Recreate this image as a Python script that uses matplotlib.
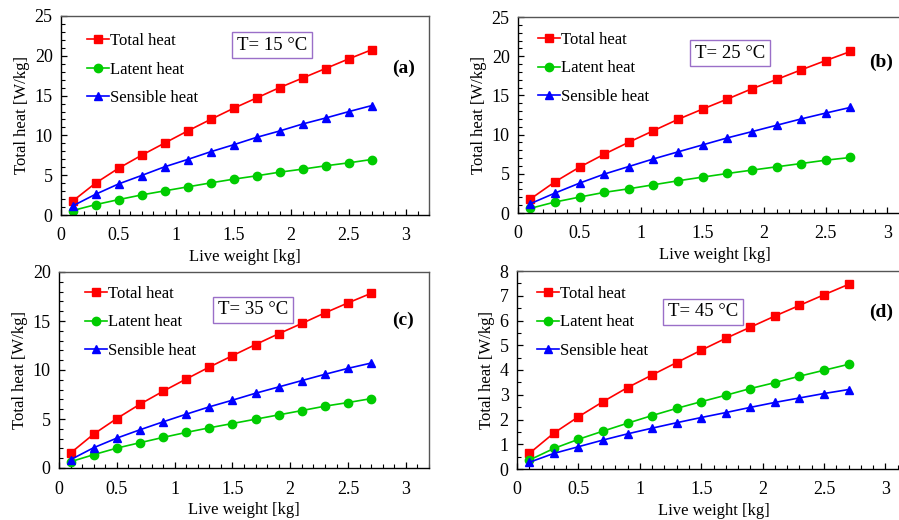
import matplotlib
matplotlib.use("Agg")
import matplotlib.pyplot as plt
from matplotlib.ticker import MultipleLocator, FormatStrFormatter

plt.rcParams['font.family'] = ['Liberation Serif', 'DejaVu Serif']

# live weight [kg]
weight = [0.1, 0.3, 0.5, 0.7, 0.9, 1.1, 1.3, 1.5, 1.7, 1.9, 2.1, 2.3, 2.5, 2.7]

# T = 15 C
total_15 = [1.73, 4.0, 5.87, 7.5, 9.03, 10.55, 12.0, 13.4, 14.7, 16.0, 17.2, 18.4, 19.6, 20.75]
latent_15 = [0.55, 1.3, 1.93, 2.52, 3.03, 3.53, 4.03, 4.5, 4.92, 5.38, 5.76, 6.18, 6.55, 6.97]
sensible_15 = [1.13, 2.6, 3.9, 4.96, 6.05, 6.97, 7.94, 8.82, 9.75, 10.55, 11.43, 12.18, 12.98, 13.74]

# T = 25 C
total_25 = [1.78, 3.98, 5.85, 7.5, 9.03, 10.5, 11.95, 13.26, 14.53, 15.85, 17.03, 18.26, 19.45, 20.6]
latent_25 = [0.59, 1.4, 2.03, 2.63, 3.09, 3.6, 4.11, 4.58, 5.04, 5.47, 5.89, 6.31, 6.74, 7.08]
sensible_25 = [1.19, 2.54, 3.81, 4.96, 5.93, 6.9, 7.8, 8.69, 9.58, 10.38, 11.19, 12.0, 12.75, 13.47]

# T = 35 C
total_35 = [1.53, 3.46, 5.05, 6.51, 7.83, 9.08, 10.3, 11.46, 12.6, 13.7, 14.75, 15.83, 16.85, 17.83]
latent_35 = [0.64, 1.36, 2.03, 2.58, 3.12, 3.63, 4.1, 4.54, 4.98, 5.42, 5.86, 6.31, 6.68, 7.08]
sensible_35 = [0.85, 2.07, 3.05, 3.9, 4.71, 5.49, 6.24, 6.92, 7.63, 8.27, 8.92, 9.56, 10.17, 10.71]

# T = 45 C
total_45 = [0.63, 1.45, 2.11, 2.72, 3.29, 3.8, 4.3, 4.8, 5.28, 5.73, 6.18, 6.61, 7.04, 7.46]
latent_45 = [0.36, 0.83, 1.2, 1.53, 1.85, 2.16, 2.45, 2.72, 2.98, 3.25, 3.49, 3.75, 3.99, 4.23]
sensible_45 = [0.27, 0.63, 0.9, 1.17, 1.42, 1.65, 1.87, 2.08, 2.28, 2.49, 2.69, 2.87, 3.05, 3.21]

temps = ['T= 15 °C', 'T= 25 °C', 'T= 35 °C', 'T= 45 °C']
tags = ['(a)', '(b)', '(c)', '(d)']
ymax = [25, 25, 20, 8]
ymajor = [5, 5, 5, 1]
yminor = [1, 1, 1, 0.5]

W, H = 899, 520
fig = plt.figure(figsize=(W / 100, H / 100), dpi=100)


def px_rect(left, top, right, bottom):
    return [left / W, 1 - bottom / H, (right - left) / W, (bottom - top) / H]


# axes boxes in pixels (left, top, right, bottom)
boxes = [(61, 16, 429, 215), (518, 17, 912, 213), (59, 272, 429, 468), (517, 271, 910, 469)]
# annotation spots in pixels
temp_pos = [(272, 45), (730, 53), (253, 310), (703, 312)]
tag_pos = [(404, 68), (881, 62), (403, 320), (881, 312)]
leg_pos = [(87, 33), (538, 32), (85, 286), (537, 286)]

series = [
    (total_15, latent_15, sensible_15),
    (total_25, latent_25, sensible_25),
    (total_35, latent_35, sensible_35),
    (total_45, latent_45, sensible_45),
]

for i, (tot, lat, sen) in enumerate(series):
    ax = fig.add_axes(px_rect(*boxes[i]))
    ax.plot(weight, tot, '-s', color='#ff0000', lw=1.2, ms=6, label='Total heat')
    ax.plot(weight, lat, '-o', color='#00cc00', lw=1.2, ms=6, label='Latent heat')
    ax.plot(weight, sen, '-^', color='#0000ff', lw=1.2, ms=6, label='Sensible heat')

    ax.set_xlim(0, 3.2)
    ax.set_ylim(0, ymax[i])
    ax.xaxis.set_major_locator(MultipleLocator(0.5))
    ax.xaxis.set_minor_locator(MultipleLocator(0.1))
    ax.xaxis.set_major_formatter(FormatStrFormatter('%g'))
    ax.yaxis.set_major_locator(MultipleLocator(ymajor[i]))
    ax.yaxis.set_minor_locator(MultipleLocator(yminor[i]))
    ax.tick_params(which='both', direction='in', labelsize=13, top=False, right=False)
    ax.tick_params(which='major', length=4, width=0.9)
    ax.tick_params(axis='x', pad=9)
    ax.tick_params(axis='y', pad=6)
    ax.tick_params(which='minor', length=3, width=0.8)
    for s in ax.spines.values():
        s.set_linewidth(1.0)
    ax.spines['top'].set_color('#555555')
    ax.spines['right'].set_color('#555555')

    ax.set_xlabel('Live weight [kg]', fontsize=12, labelpad=3)
    ax.set_ylabel('Total heat [W/kg]', fontsize=12, labelpad=3)

    lx, ly = leg_pos[i]
    ax.legend(loc='upper left', bbox_to_anchor=(lx / W, 1 - ly / H),
              bbox_transform=fig.transFigure, frameon=False, fontsize=12,
              handlelength=1.3, handletextpad=0.1, labelspacing=0.75,
              borderaxespad=0, borderpad=0)

    tx, ty = temp_pos[i]
    fig.text(tx / W, 1 - ty / H, temps[i], ha='center', va='center', fontsize=13.5,
             bbox=dict(boxstyle='square,pad=0.25', fc='white', ec='#9a6fc8', lw=1.0))
    gx, gy = tag_pos[i]
    fig.text(gx / W, 1 - gy / H, tags[i], ha='center', va='center', fontsize=14,
             fontweight='bold')

fig.savefig('out.png', dpi=100)
